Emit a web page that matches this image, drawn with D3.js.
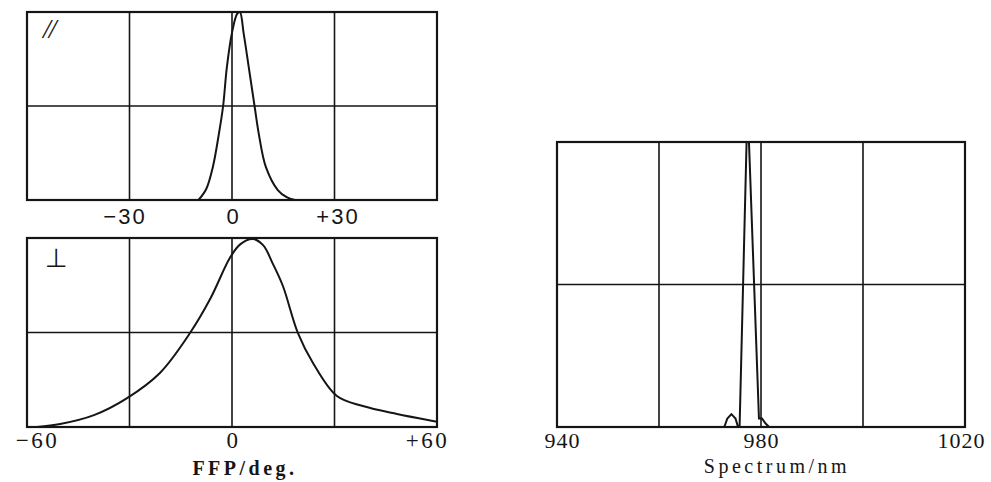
<!DOCTYPE html>
<html>
<head>
<meta charset="utf-8">
<script src="https://cdn.jsdelivr.net/npm/d3@7"></script>
<style>
  body { margin: 0; background: #fff; }
  svg { display: block; }
</style>
</head>
<body>
<svg id="chart" width="991" height="482"></svg>
<script>
// Far field pattern, parallel (//)
const parDeg = [-9.8, -7.5, -5.6, -3.8, -2.6, -1.5, 0, 1.5, 2.3, 3.4, 4.9, 6.6, 7.8, 9.9, 13.4, 16, 18.4];
const parVal = [0, 0.06, 0.176, 0.356, 0.5, 0.707, 0.89, 0.99, 1.0, 0.888, 0.707, 0.5, 0.356, 0.176, 0.053, 0.015, 0];

// Far field pattern, perpendicular (⊥)
const perpDeg = [-57.1, -50.3, -40.4, -30.7, -21.1, -12.3, -6.4, -0.6, 2.3, 6.1, 9.1, 12.0, 14.9, 19.3, 23.7, 30.7, 38.3, 48.3, 58.8, 60];
const perpVal = [0, 0.016, 0.063, 0.153, 0.286, 0.497, 0.677, 0.895, 0.965, 0.995, 0.962, 0.862, 0.746, 0.497, 0.339, 0.164, 0.111, 0.069, 0.032, 0.028];

// Spectrum
const specNm = [972.8, 973.4, 974.2, 975.0, 975.5, 975.8, 977.2, 977.6, 979.6, 980.2, 980.9, 981.6];
const specVal = [0, 0.03, 0.045, 0.03, 0, 0, 1.02, 1.02, 0.03, 0.03, 0.012, 0];

const ffpGrid = [-30, 0, 30];
const parTicks = [-30, 0, 30];
const parTickLabels = ["\u221230", "0", "+30"];
const perpTicks = [-60, 0, 60];
const perpTickLabels = ["\u221260", "0", "+60"];
const specGrid = [960, 980, 1000];
const specTicks = [940, 980, 1020];
const specTickLabels = ["940", "980", "1020"];

const svg = d3.select("#chart");
const ink = "#151515";

function drawPanel(opt) {
    const x = d3.scaleLinear().domain(opt.domain).range([opt.left, opt.right]);
    const y = d3.scaleLinear().domain([0, 1]).range([opt.bottom, opt.top]);
    const g = svg.append("g");

    g.append("clipPath").attr("id", opt.id)
        .append("rect")
        .attr("x", opt.left).attr("y", opt.top)
        .attr("width", opt.right - opt.left).attr("height", opt.bottom - opt.top);

    // vertical grid lines
    g.selectAll(".vgrid")
        .data(opt.grid)
        .enter()
        .append("line")
        .attr("x1", d => x(d)).attr("x2", d => x(d))
        .attr("y1", opt.top).attr("y2", opt.bottom)
        .attr("stroke", ink).attr("stroke-width", 1.6);

    // horizontal mid line
    g.append("line")
        .attr("x1", opt.left).attr("x2", opt.right)
        .attr("y1", y(0.5)).attr("y2", y(0.5))
        .attr("stroke", ink).attr("stroke-width", 1.6);

    const line = d3.line()
        .x(d => x(d[0]))
        .y(d => y(d[1]))
        .curve(opt.curve);

    g.append("path")
        .datum(d3.zip(opt.xs, opt.ys))
        .attr("d", line)
        .attr("fill", "none")
        .attr("stroke", ink)
        .attr("stroke-width", 2)
        .attr("clip-path", `url(#${opt.id})`);

    // frame
    g.append("rect")
        .attr("x", opt.left).attr("y", opt.top)
        .attr("width", opt.right - opt.left).attr("height", opt.bottom - opt.top)
        .attr("fill", "none").attr("stroke", ink).attr("stroke-width", 2.2);

    // tick labels
    const axis = d3.axisBottom(x)
        .tickValues(opt.ticks)
        .tickSize(0)
        .tickPadding(0)
        .tickFormat((d, i) => opt.tickLabels[i]);
    const ax = g.append("g")
        .attr("transform", `translate(0,${opt.labelY})`)
        .call(axis);
    ax.select(".domain").remove();
    ax.selectAll("text")
        .attr("fill", ink)
        .attr("dy", 0)
        .attr("dx", (d, i) => opt.tickDx ? opt.tickDx[i] : 0)
        .style("font-family", opt.tickFont)
        .style("font-size", opt.tickSize + "px")
        .style("letter-spacing", opt.tickSpacing + "px");

    return { x, y, g };
}

// top-left: parallel
drawPanel({
    id: "clipPar", domain: [-60, 60],
    left: 27, right: 437, top: 12, bottom: 200,
    grid: ffpGrid, xs: parDeg, ys: parVal,
    curve: d3.curveCatmullRom.alpha(0.5),
    ticks: parTicks, tickLabels: parTickLabels,
    labelY: 224, tickFont: "'Liberation Sans', Arial, sans-serif", tickSize: 22, tickSpacing: 2,
    tickDx: [-5, 1, 3]
});

// bottom-left: perpendicular
drawPanel({
    id: "clipPerp", domain: [-60, 60],
    left: 27, right: 437, top: 238, bottom: 427,
    grid: ffpGrid, xs: perpDeg, ys: perpVal,
    curve: d3.curveCatmullRom.alpha(0.5),
    ticks: perpTicks, tickLabels: perpTickLabels,
    labelY: 448, tickFont: "'Liberation Serif', 'DejaVu Serif', serif", tickSize: 23, tickSpacing: 2.5,
    tickDx: [10, 1, -10]
});

// right: spectrum
drawPanel({
    id: "clipSpec", domain: [940, 1020],
    left: 557, right: 965, top: 142, bottom: 427,
    grid: specGrid, xs: specNm, ys: specVal,
    curve: d3.curveLinear,
    ticks: specTicks, tickLabels: specTickLabels,
    labelY: 448, tickFont: "'Liberation Serif', 'DejaVu Serif', serif", tickSize: 22, tickSpacing: 1,
    tickDx: [5, 0, -4]
});

// panel marks
svg.append("text")
    .attr("x", 43).attr("y", 38)
    .attr("fill", ink)
    .style("font-family", "'Liberation Serif', serif")
    .style("font-style", "italic")
    .style("font-size", "28px")
    .style("letter-spacing", "-2px")
    .text("//");

svg.append("text")
    .attr("x", 45).attr("y", 267)
    .attr("fill", ink)
    .style("font-family", "'DejaVu Sans', sans-serif")
    .style("font-size", "26px")
    .text("\u22a5");

// axis titles
svg.append("text")
    .attr("x", 245).attr("y", 475)
    .attr("text-anchor", "middle")
    .attr("fill", ink)
    .style("font-family", "'Liberation Serif', serif")
    .style("font-weight", "bold")
    .style("font-size", "20px")
    .style("letter-spacing", "3.5px")
    .text("FFP/deg.");

svg.append("text")
    .attr("x", 777).attr("y", 473)
    .attr("text-anchor", "middle")
    .attr("fill", ink)
    .style("font-family", "'Liberation Serif', serif")
    .style("font-size", "20px")
    .style("letter-spacing", "3.5px")
    .text("Spectrum/nm");
</script>
</body>
</html>
